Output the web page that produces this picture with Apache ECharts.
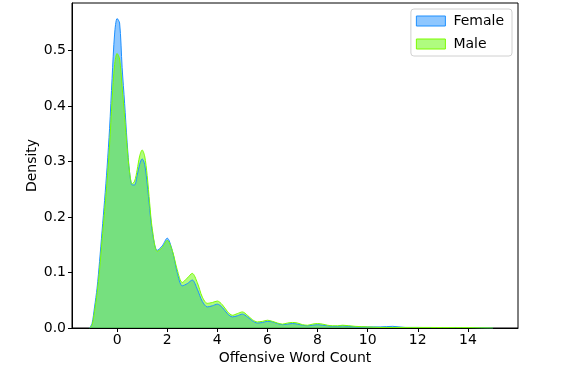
<!DOCTYPE html>
<html>
<head>
<meta charset="utf-8">
<script src="https://cdn.jsdelivr.net/npm/echarts@6/dist/echarts.min.js"></script>
<style>
  html, body { margin: 0; padding: 0; background: #fff; }
  #chart { width: 573px; height: 382px; }
</style>
</head>
<body>
<div id="chart"></div>
<script>
// density estimates
const xs = [-1.1, -1.0, -0.9, -0.8, -0.7, -0.6, -0.5, -0.4, -0.3, -0.2, -0.1, 0.0, 0.1, 0.2, 0.3, 0.4, 0.5, 0.6, 0.7, 0.8, 0.9, 1.0, 1.1, 1.2, 1.3, 1.4,
  1.6, 1.8, 2.0, 2.2, 2.4, 2.6, 2.8, 3.0, 3.2, 3.4, 3.6, 3.8, 4.0, 4.2, 4.4, 4.6, 4.8, 5.0, 5.2, 5.4, 5.6, 5.8, 6.0, 6.2, 6.4, 6.6, 6.8, 7.0, 7.2, 7.4, 7.6, 7.8, 8.0, 8.2, 8.4, 8.6, 8.8, 9.0,
  9.5, 10, 10.5, 11, 11.5, 12, 12.5, 13, 13.5, 14, 14.5, 15];
const female = [0, 0.008, 0.038, 0.072, 0.12, 0.175, 0.23, 0.29, 0.36, 0.45, 0.53, 0.558, 0.55, 0.47, 0.405, 0.335, 0.28, 0.258, 0.258, 0.275, 0.295, 0.305, 0.295, 0.26, 0.215, 0.175,
  0.14, 0.148, 0.162, 0.14, 0.1, 0.076, 0.08, 0.0865, 0.07, 0.048, 0.038, 0.04, 0.043, 0.037, 0.026, 0.02, 0.022, 0.025, 0.02, 0.013, 0.009, 0.01, 0.012, 0.011, 0.008, 0.006, 0.007, 0.008, 0.007, 0.005, 0.004, 0.005, 0.006, 0.005, 0.004, 0.003, 0.003, 0.004,
  0.002, 0.002, 0.002, 0.003, 0.001, 0.001, 0.0008, 0.0008, 0.0008, 0.0008, 0.0004, 0];
const male = [0, 0.005, 0.03, 0.062, 0.105, 0.158, 0.21, 0.265, 0.33, 0.41, 0.475, 0.495, 0.485, 0.435, 0.38, 0.325, 0.28, 0.26, 0.265, 0.285, 0.31, 0.321, 0.31, 0.275, 0.225, 0.18,
  0.138, 0.145, 0.158, 0.14, 0.105, 0.082, 0.09, 0.0985, 0.082, 0.056, 0.0445, 0.046, 0.0486, 0.042, 0.03, 0.023, 0.026, 0.029, 0.023, 0.015, 0.011, 0.012, 0.014, 0.012, 0.009, 0.007, 0.009, 0.01, 0.009, 0.006, 0.005, 0.007, 0.008, 0.007, 0.005, 0.004, 0.004, 0.005,
  0.003, 0.002, 0.001, 0.001, 0.001, 0.001, 0.001, 0.0008, 0.0008, 0.0008, 0.0004, 0];

const xTicks = [0, 2, 4, 6, 8, 10, 12, 14];
const yTicks = [0, 0.1, 0.2, 0.3, 0.4, 0.5];

const font = 'DejaVu Sans';
const chart = echarts.init(document.getElementById('chart'));

const pairs = (vals) => xs.map((x, i) => [x, vals[i]]);

chart.setOption({
  animation: false,
  textStyle: { fontFamily: font },
  grid: {
    left: 72, right: 55, top: 3, bottom: 54,
    show: true, borderColor: '#000', borderWidth: 1,
    containLabel: false
  },
  legend: {
    orient: 'vertical',
    right: 61, top: 9,
    padding: [5, 8, 5, 5],
    backgroundColor: '#fff',
    borderColor: '#d0d0d0',
    borderWidth: 1,
    borderRadius: 3,
    icon: 'rect',
    itemWidth: 29,
    itemHeight: 10,
    itemGap: 9,
    textStyle: { fontFamily: font, fontSize: 14, color: '#000', padding: [0, 0, 0, 3] },
    data: [
      { name: 'Female', itemStyle: { color: 'rgba(30,144,255,0.5)', borderColor: '#1e90ff', borderWidth: 1 } },
      { name: 'Male', itemStyle: { color: 'rgba(95,250,0,0.5)', borderColor: '#7cfc00', borderWidth: 1 } }
    ]
  },
  xAxis: {
    type: 'value',
    min: -1.8, max: 16.0,
    name: 'Offensive Word Count',
    nameLocation: 'middle',
    nameGap: 23,
    nameMoveOverlap: false,
    nameTextStyle: { fontFamily: font, fontSize: 14, color: '#000' },
    axisLine: { show: true, onZero: false, lineStyle: { color: '#000' } },
    axisTick: { show: true, length: 4, customValues: xTicks, lineStyle: { color: '#000' } },
    axisLabel: { customValues: xTicks, fontFamily: font, fontSize: 14, color: '#000', margin: 5 },
    splitLine: { show: false }
  },
  yAxis: {
    type: 'value',
    min: 0, max: 0.586,
    name: 'Density',
    nameLocation: 'middle',
    nameGap: 33,
    nameMoveOverlap: false,
    nameTextStyle: { fontFamily: font, fontSize: 14, color: '#000' },
    axisLine: { show: true, onZero: false, lineStyle: { color: '#000' } },
    axisTick: { show: true, length: 4, customValues: yTicks, lineStyle: { color: '#000' } },
    axisLabel: {
      customValues: yTicks, fontFamily: font, fontSize: 14, color: '#000', margin: 6,
      formatter: (v) => v.toFixed(1)
    },
    splitLine: { show: false }
  },
  series: [
    {
      name: 'Female',
      type: 'line',
      smooth: 0.3,
      showSymbol: false,
      color: '#1e90ff',
      lineStyle: { color: '#1e90ff', width: 1 },
      areaStyle: { color: '#1e90ff', opacity: 0.5 },
      data: pairs(female)
    },
    {
      name: 'Male',
      type: 'line',
      smooth: 0.3,
      showSymbol: false,
      color: '#7cfc00',
      lineStyle: { color: '#7cfc00', width: 1 },
      areaStyle: { color: 'rgb(95,250,0)', opacity: 0.5 },
      data: pairs(male)
    }
  ]
});
</script>
</body>
</html>
